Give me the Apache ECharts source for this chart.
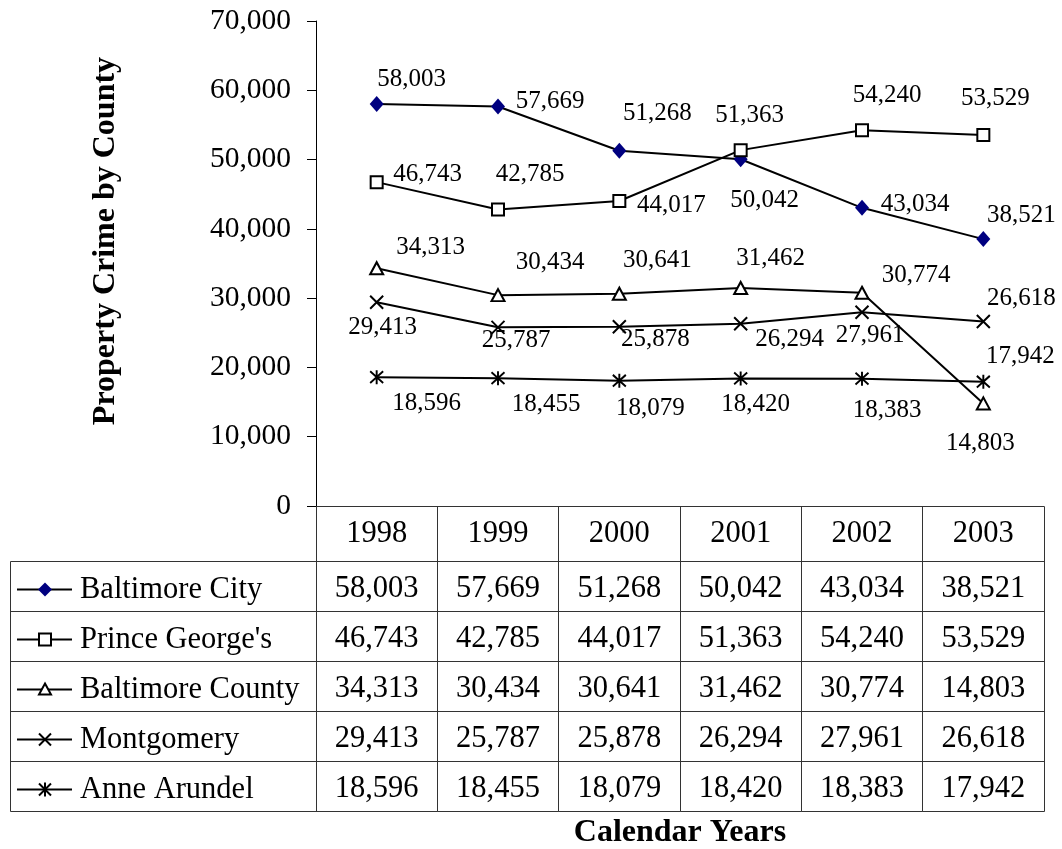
<!DOCTYPE html>
<html><head><meta charset="utf-8">
<script src="https://cdn.jsdelivr.net/npm/echarts@6/dist/echarts.min.js"></script>
<style>html,body{margin:0;padding:0;background:#fff}#c{width:1062px;height:849px}</style>
</head><body><div id="c"></div>
<script>
// ---- data ----
const years = ['1998', '1999', '2000', '2001', '2002', '2003'];
const seriesNames = ['Baltimore City', "Prince George's", 'Baltimore County', 'Montgomery', 'Anne Arundel'];
const baltimoreCity   = [58003, 57669, 51268, 50042, 43034, 38521];
const princeGeorges   = [46743, 42785, 44017, 51363, 54240, 53529];
const baltimoreCounty = [34313, 30434, 30641, 31462, 30774, 14803];
const montgomery      = [29413, 25787, 25878, 26294, 27961, 26618];
const anneArundel     = [18596, 18455, 18079, 18420, 18383, 17942];
const yMin = 0, yMax = 70000, yStep = 10000;

// ---- layout / style (not data) ----
const allSeries = [baltimoreCity, princeGeorges, baltimoreCounty, montgomery, anneArundel];
const labelOffsets = [
  [[35,-25],[52,-5],[38,-37],[24,41],[53,-3],[38,-24]],
  [[51,-8],[32,-35],[52,4],[9,-35],[25,-35],[12,-37]],
  [[54,-21],[52,-33],[38,-33],[30,-30],[54,-17],[-3,40]],
  [[6,25],[18,13],[36,13],[49,16],[8,23],[38,-23]],
  [[50,26],[48,26],[31,28],[15,26],[25,32],[37,-25]]
];
const FONT = "'Liberation Serif','Times New Roman',serif";
const NAVY = '#000080';
const GRIDC = '#333';
const TABLE_FONT = '30.5px ' + FONT;
const fmt = v => Number(v).toLocaleString('en-US');
const symbols = [
  {symbol: 'diamond', size: [14, 16], color: NAVY, border: NAVY, bw: 0},
  {symbol: 'rect', size: 12, color: '#fff', border: '#000', bw: 2},
  {symbol: 'triangle', size: [13, 12], color: '#fff', border: '#000', bw: 2},
  {symbol: 'path://M0,0L10,10M10,0L0,10', size: 13, color: '#000', border: '#000', bw: 2},
  {symbol: 'path://M0,1L10,11M10,1L0,11M5,0L5,12', size: [13, 14], color: '#000', border: '#000', bw: 2}
];

const chart = echarts.init(document.getElementById('c'), null, {renderer: 'canvas'});

const lineSeries = allSeries.map((arr, s) => ({
  type: 'line',
  name: seriesNames[s],
  data: arr.map((v, i) => ({value: v, label: {offset: labelOffsets[s][i]}})),
  symbol: symbols[s].symbol,
  symbolSize: symbols[s].size,
  showAllSymbol: true,
  lineStyle: {color: '#000', width: 2},
  itemStyle: {color: symbols[s].color, borderColor: symbols[s].border, borderWidth: symbols[s].bw},
  label: {
    show: true, position: 'inside', align: 'center', verticalAlign: 'middle',
    color: '#000', fontFamily: FONT, fontSize: 25,
    formatter: p => fmt(p.value)
  },
  emphasis: {disabled: true},
  z: 3
}));

const HEADER_H = 55, ROW_H = 50, TABLE_LEFT = 10.5, ICON_X0 = 17, ICON_X1 = 72, ICON_CX = 45, NAME_X = 80;

function px(v) { return Math.round(v - 0.5) + 0.5; }

function legendIcon(r, y) {
  const st = {stroke: '#000', lineWidth: 2, fill: '#fff'};
  const out = [{type: 'line', shape: {x1: ICON_X0, y1: y, x2: ICON_X1, y2: y}, style: {stroke: '#000', lineWidth: 2}}];
  const c = ICON_CX;
  if (r === 0) out.push({type: 'polygon', shape: {points: [[c, y-7],[c+7, y],[c, y+7],[c-7, y]]}, style: {fill: NAVY}});
  if (r === 1) out.push({type: 'rect', shape: {x: c-6, y: y-6, width: 12, height: 12}, style: st});
  if (r === 2) out.push({type: 'polygon', shape: {points: [[c, y-6],[c+6, y+5],[c-6, y+5]]}, style: st});
  if (r === 3 || r === 4) {
    out.push({type: 'line', shape: {x1: c-6, y1: y-6, x2: c+6, y2: y+6}, style: {stroke: '#000', lineWidth: 2}});
    out.push({type: 'line', shape: {x1: c+6, y1: y-6, x2: c-6, y2: y+6}, style: {stroke: '#000', lineWidth: 2}});
  }
  if (r === 4) out.push({type: 'line', shape: {x1: c, y1: y-7, x2: c, y2: y+7}, style: {stroke: '#000', lineWidth: 2}});
  return out;
}

const tableSeries = {
  type: 'custom',
  silent: true,
  clip: false,
  z: 1,
  data: years.map((y, i) => [i, yMin]),
  encode: {x: 0, y: 1},
  renderItem: function (params, api) {
    const idx = api.value(0);
    const c = api.coord([idx, yMin]);
    const w = api.size([1, 0])[0];
    const x0 = px(c[0] - w / 2), x1 = px(c[0] + w / 2);
    const top = px(c[1]);
    const y0 = px(top + HEADER_H);
    const bottom = y0 + ROW_H * allSeries.length;
    const ls = {stroke: GRIDC, lineWidth: 1};
    const ch = [];
    ch.push({type: 'line', shape: {x1: x1, y1: top, x2: x1, y2: bottom}, style: ls});
    ch.push({type: 'line', shape: {x1: x0, y1: top, x2: x0, y2: bottom}, style: ls});
    for (let r = 0; r <= allSeries.length; r++) {
      const yy = y0 + r * ROW_H;
      ch.push({type: 'line', shape: {x1: idx === 0 ? TABLE_LEFT : x0, y1: yy, x2: x1, y2: yy}, style: ls});
    }
    for (let r = 0; r < allSeries.length; r++) {
      ch.push({type: 'text', x: c[0], y: y0 + r * ROW_H + ROW_H / 2 + 2,
        style: {text: fmt(allSeries[r][idx]), fill: '#000', font: TABLE_FONT, align: 'center', verticalAlign: 'middle'}});
    }
    if (idx === 0) {
      ch.push({type: 'line', shape: {x1: TABLE_LEFT, y1: y0, x2: TABLE_LEFT, y2: bottom}, style: ls});
      for (let r = 0; r < allSeries.length; r++) {
        const yc = y0 + r * ROW_H + ROW_H / 2 + 3;
        legendIcon(r, yc).forEach(e => ch.push(e));
        ch.push({type: 'text', x: NAME_X, y: yc,
          style: {text: seriesNames[r], fill: '#000', font: TABLE_FONT, align: 'left', verticalAlign: 'middle'}});
      }
    }
    return {type: 'group', children: ch};
  }
};

chart.setOption({
  animation: false,
  backgroundColor: '#fff',
  grid: {left: 316, right: 18, top: 21, bottom: 343, containLabel: false},
  xAxis: {
    type: 'category', data: years, boundaryGap: true,
    axisLine: {show: true, lineStyle: {color: GRIDC, width: 1}},
    axisTick: {show: false},
    axisLabel: {color: '#000', fontFamily: FONT, fontSize: 30.5, margin: 12},
    splitLine: {show: false}
  },
  yAxis: {
    type: 'value', min: yMin, max: yMax, interval: yStep,
    axisLine: {show: true, lineStyle: {color: '#000', width: 1}},
    axisTick: {show: true, inside: false, length: 9, lineStyle: {color: '#000'}},
    axisLabel: {color: '#000', fontFamily: FONT, fontSize: 29.5, margin: 25, formatter: v => fmt(v)},
    splitLine: {show: false}
  },
  graphic: [
    {type: 'text', x: 106, y: 241, rotation: Math.PI / 2,
      style: {text: 'Property Crime by County', fill: '#000', font: 'bold 32px ' + FONT, align: 'center', verticalAlign: 'middle'}},
    {type: 'text', x: 680, y: 833,
      style: {text: 'Calendar Years', fill: '#000', font: 'bold 32px ' + FONT, align: 'center', verticalAlign: 'middle'}}
  ],
  series: [tableSeries].concat(lineSeries)
});
</script></body></html>
